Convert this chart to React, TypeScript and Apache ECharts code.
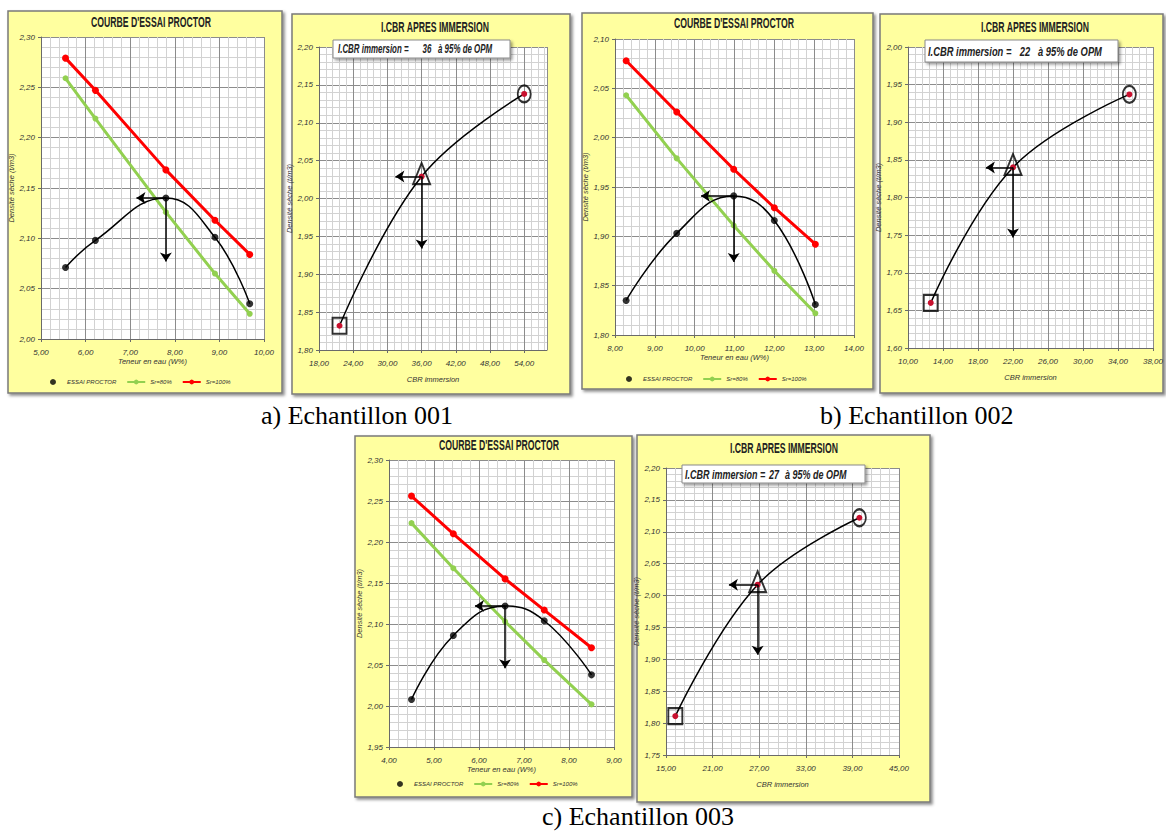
import React, { useEffect, useRef } from "react";
import * as echarts from "echarts";

// ---------- DATA ----------
// Echantillon 001
const wA = [5.55, 6.22, 7.8, 8.9, 9.68];
const proctorA = [2.071, 2.098, 2.14, 2.101, 2.035];
const sr80A = [2.259, 2.219, 2.126, 2.065, 2.025];
const sr100A = [2.279, 2.247, 2.168, 2.118, 2.084];
const arrowEndA = [7.14, 2.077];
const cbrA = [21.6, 36.0, 54.0];
const densCbrA = [1.832, 2.029, 2.138];
const cbrArrowEndA = [31.4, 1.934];

// Echantillon 002
const wB = [8.28, 9.55, 10.98, 12.0, 13.03];
const proctorB = [1.835, 1.903, 1.941, 1.916, 1.831];
const sr80B = [2.043, 1.979, 1.911, 1.865, 1.822];
const sr100B = [2.078, 2.026, 1.968, 1.929, 1.892];
const arrowEndB = [10.16, 1.874];
const cbrB = [12.6, 22.0, 35.3];
const densCbrB = [1.66, 1.84, 1.937];
const cbrArrowEndB = [18.9, 1.747];

// Echantillon 003
const wC = [4.5, 5.43, 6.58, 7.45, 8.5];
const proctorC = [2.008, 2.086, 2.122, 2.104, 2.038];
const sr80C = [2.223, 2.168, 2.103, 2.056, 2.002];
const sr100C = [2.256, 2.21, 2.155, 2.117, 2.071];
const arrowEndC = [5.91, 2.046];
const cbrC = [16.2, 26.8, 39.9];
const densCbrC = [1.811, 2.017, 2.122];
const cbrArrowEndC = [23.1, 1.907];

// I.CBR immersion at 95% OPM
const cbrAt95 = [36, 22, 27];

// axis ranges [min, max, interval]
const proctorXRanges = [[5, 10, 1], [8, 14, 1], [4, 9, 1]];
const proctorYRanges = [[2.0, 2.3, 0.05], [1.8, 2.1, 0.05], [1.95, 2.3, 0.05]];
const cbrXRanges = [[18, 58, 6], [10, 38, 4], [15, 45, 6]];
const cbrYRanges = [[1.8, 2.2, 0.05], [1.6, 2.0, 0.05], [1.75, 2.2, 0.05]];

const legendNames = ["ESSAI PROCTOR", "Sr=80%", "Sr=100%"];
const proctorTitle = "COURBE D'ESSAI PROCTOR";
const cbrTitle = "I.CBR APRES IMMERSION";
const captions = ["a) Echantillon 001", "b) Echantillon 002", "c) Echantillon 003"];
const xNameProctor = "Teneur en eau (W%)";
const yNameDensity = "Densité sèche (t/m3)";
const xNameCbr = "CBR immersion";

// ---------- LAYOUT ----------
const FONT = "Liberation Sans";
const PANEL_BG = "#FFFF9F";

const proctorLayouts = [
  { grid: 0, box: [8, 11, 274, 382], plot: [41, 37, 223, 302], title: [151, 22], legend: [50, 379] },
  { grid: 2, box: [582, 13, 291, 376], plot: [615, 39, 239, 296], title: [734, 23], legend: [626, 376] },
  { grid: 4, box: [355, 436, 277, 361], plot: [389, 460, 225, 287], title: [499, 445], legend: [397, 781] },
];
const cbrLayouts = [
  { grid: 1, box: [292, 14, 278, 380], plot: [319, 47, 228, 303], title: [435, 27],
    tb: { x: 333, y: 40, w: 177, h: 18, font: 12, sx: 0.66, label: 338, num: 427, suf: 438 } },
  { grid: 3, box: [880, 14, 283, 379], plot: [908, 47, 247, 301], title: [1035, 27],
    tb: { x: 925, y: 40, w: 193, h: 22, font: 13, sx: 0.72, label: 928, num: 1025, suf: 1038 } },
  { grid: 5, box: [637, 435, 293, 367], plot: [666, 468, 233, 287], title: [784, 448],
    tb: { x: 682, y: 465, w: 183, h: 18, font: 12, sx: 0.75, label: 685, num: 774, suf: 785 } },
];
const captionPos = [[261, 415], [820, 415], [542, 816]];

const ELLIPSE = "path://M0,10A10,10,0,1,1,20,10A10,10,0,1,1,0,10Z";

const fmt = (v: number) => v.toFixed(2).replace(".", ",");
const zip = (xs: number[], ys: number[]) => xs.map((x, i) => [x, ys[i]]);

function axis(gi: number, r: number[], name: string, nameGap: number, isY: boolean, hideMax = false) {
  return {
    gridIndex: gi,
    type: "value",
    min: r[0],
    max: r[1],
    interval: r[2],
    name,
    nameLocation: "middle",
    nameGap,
    nameTextStyle: { fontFamily: FONT, fontSize: 7.5, fontStyle: "italic", color: "#333" },
    axisLine: { show: true, onZero: false, lineStyle: { color: "#6a6a6a", width: 1 } },
    axisTick: { show: true, length: 3, lineStyle: { color: "#6a6a6a" } },
    axisLabel: {
      show: true,
      formatter: fmt,
      fontFamily: FONT,
      fontSize: 8,
      fontStyle: "italic",
      color: "#333",
      margin: isY ? 6 : 9,
      showMaxLabel: hideMax ? false : null,
    },
    splitLine: { show: true, lineStyle: { color: "#8c8c8c", width: 1 } },
    minorTick: { show: false, splitNumber: 5 },
    minorSplitLine: { show: true, lineStyle: { color: "#d2d2d2", width: 1 } },
  };
}

function arrows(x0: number, y0: number, end: number[]) {
  return {
    silent: true,
    symbol: ["none", "arrow"],
    symbolSize: 9,
    label: { show: false },
    emphasis: { disabled: true },
    lineStyle: { color: "#000", width: 1.5, type: "solid" },
    data: [
      [{ coord: [x0, y0] }, { coord: [end[0], y0] }],
      [{ coord: [x0, y0] }, { coord: [x0, end[1]] }],
    ],
  };
}

function buildOption() {
  const grid: any[] = [];
  const xAxis: any[] = [];
  const yAxis: any[] = [];
  const series: any[] = [];
  const legend: any[] = [];
  const graphic: any[] = [];

  const allBoxes = [
    proctorLayouts[0].box, cbrLayouts[0].box, proctorLayouts[1].box,
    cbrLayouts[1].box, proctorLayouts[2].box, cbrLayouts[2].box,
  ];
  allBoxes.forEach((b) => {
    graphic.push({
      type: "rect",
      z: -10,
      silent: true,
      shape: { x: b[0], y: b[1], width: b[2], height: b[3] },
      style: {
        fill: PANEL_BG,
        stroke: "#7a7a7a",
        lineWidth: 1.5,
        shadowColor: "rgba(0,0,0,0.45)",
        shadowBlur: 3,
        shadowOffsetX: 2,
        shadowOffsetY: 2,
      },
    });
  });

  const grids = [
    proctorLayouts[0].plot, cbrLayouts[0].plot, proctorLayouts[1].plot,
    cbrLayouts[1].plot, proctorLayouts[2].plot, cbrLayouts[2].plot,
  ];
  grids.forEach((p) => {
    grid.push({
      left: p[0], top: p[1], width: p[2], height: p[3],
      show: true, backgroundColor: "#ffffff", borderWidth: 0, containLabel: false,
    });
  });

  const proctorSets = [
    { w: wA, d: proctorA, s80: sr80A, s100: sr100A, end: arrowEndA },
    { w: wB, d: proctorB, s80: sr80B, s100: sr100B, end: arrowEndB },
    { w: wC, d: proctorC, s80: sr80C, s100: sr100C, end: arrowEndC },
  ];
  const cbrSets = [
    { c: cbrA, d: densCbrA, end: cbrArrowEndA },
    { c: cbrB, d: densCbrB, end: cbrArrowEndB },
    { c: cbrC, d: densCbrC, end: cbrArrowEndC },
  ];

  const axesX: any[] = new Array(6);
  const axesY: any[] = new Array(6);
  proctorLayouts.forEach((L, k) => {
    axesX[L.grid] = axis(L.grid, proctorXRanges[k], xNameProctor, 18, false);
    axesY[L.grid] = axis(L.grid, proctorYRanges[k], yNameDensity, 24, true);
  });
  cbrLayouts.forEach((L, k) => {
    axesX[L.grid] = axis(L.grid, cbrXRanges[k], xNameCbr, 25, false, k === 0);
    axesY[L.grid] = axis(L.grid, cbrYRanges[k], yNameDensity, 20, true);
  });
  xAxis.push(...axesX);
  yAxis.push(...axesY);

  proctorLayouts.forEach((L, k) => {
    const S = proctorSets[k];
    const gi = L.grid;
    const iOpt = S.d.indexOf(Math.max(...S.d));
    series.push({
      type: "line", name: "Sr=80%", xAxisIndex: gi, yAxisIndex: gi,
      data: zip(S.w, S.s80), symbol: "circle", symbolSize: 6,
      lineStyle: { color: "#92D050", width: 3 }, itemStyle: { color: "#92D050" },
      emphasis: { disabled: true }, z: 3,
    });
    series.push({
      type: "line", name: "Sr=100%", xAxisIndex: gi, yAxisIndex: gi,
      data: zip(S.w, S.s100), symbol: "circle", symbolSize: 7,
      lineStyle: { color: "#FF0000", width: 3 }, itemStyle: { color: "#FF0000" },
      emphasis: { disabled: true }, z: 3,
    });
    series.push({
      type: "line", name: "courbe", xAxisIndex: gi, yAxisIndex: gi,
      data: zip(S.w, S.d), smooth: 0.45, symbol: "none", showSymbol: false,
      lineStyle: { color: "#000", width: 1.5 }, emphasis: { disabled: true }, z: 4,
      markLine: arrows(S.w[iOpt], S.d[iOpt], S.end),
    });
    series.push({
      type: "scatter", name: "ESSAI PROCTOR", xAxisIndex: gi, yAxisIndex: gi,
      data: zip(S.w, S.d), symbol: "circle", symbolSize: 7,
      itemStyle: { color: "#000" }, emphasis: { disabled: true }, z: 5,
    });
    legend.push({
      show: true, left: L.legend[0], top: L.legend[1], orient: "horizontal",
      itemWidth: 18, itemHeight: 6, itemGap: 10, padding: 0, selectedMode: false,
      data: legendNames,
      textStyle: { fontFamily: FONT, fontSize: 6, fontStyle: "italic", color: "#333" },
    });
    graphic.push({
      type: "text", z: 10, silent: true, x: L.title[0], y: L.title[1], scaleX: 0.62,
      style: {
        text: proctorTitle, font: `bold 14px "${FONT}"`, fill: "#222",
        align: "center", verticalAlign: "middle", textAlign: "center", textVerticalAlign: "middle",
      },
    });
  });

  cbrLayouts.forEach((L, k) => {
    const S = cbrSets[k];
    const gi = L.grid;
    const frames = [
      { value: [S.c[0], S.d[0]], symbol: "rect", symbolSize: [14, 16] },
      { value: [S.c[1], S.d[1]], symbol: "triangle", symbolSize: [17, 21], symbolOffset: [0, -3] },
      { value: [S.c[2], S.d[2]], symbol: ELLIPSE, symbolSize: [13, 17] },
    ];
    series.push({
      type: "scatter", name: "repères", xAxisIndex: gi, yAxisIndex: gi, data: frames,
      itemStyle: { color: "transparent", borderColor: "#000", borderWidth: 2 },
      emphasis: { disabled: true }, z: 3,
    });
    series.push({
      type: "line", name: "I.CBR", xAxisIndex: gi, yAxisIndex: gi,
      data: zip(S.c, S.d), smooth: 0.4, symbol: "circle", symbolSize: 6, showSymbol: true,
      lineStyle: { color: "#000", width: 1.5 }, itemStyle: { color: "#C8102E" },
      emphasis: { disabled: true }, z: 4,
      markLine: arrows(S.c[1], S.d[1], S.end),
    });
    graphic.push({
      type: "text", z: 10, silent: true, x: L.title[0], y: L.title[1], scaleX: 0.62,
      style: {
        text: cbrTitle, font: `bold 14px "${FONT}"`, fill: "#222",
        align: "center", verticalAlign: "middle", textAlign: "center", textVerticalAlign: "middle",
      },
    });
    const t = L.tb;
    const cy = t.y + t.h / 2;
    const f = `italic bold ${t.font}px "${FONT}"`;
    graphic.push({
      type: "rect", z: 100, silent: true,
      shape: { x: t.x, y: t.y, width: t.w, height: t.h },
      style: {
        fill: "#fff", stroke: "#8a8a8a", lineWidth: 1,
        shadowColor: "rgba(0,0,0,0.4)", shadowBlur: 3, shadowOffsetX: 2, shadowOffsetY: 2,
      },
    });
    graphic.push({
      type: "text", z: 101, silent: true, x: t.label, y: cy, scaleX: t.sx,
      style: { text: "I.CBR immersion =", font: f, fill: "#222", align: "left", verticalAlign: "middle", textAlign: "left", textVerticalAlign: "middle" },
    });
    graphic.push({
      type: "text", z: 101, silent: true, x: t.num, y: cy, scaleX: t.sx,
      style: { text: String(cbrAt95[k]), font: f, fill: "#222", align: "center", verticalAlign: "middle", textAlign: "center", textVerticalAlign: "middle" },
    });
    graphic.push({
      type: "text", z: 101, silent: true, x: t.suf, y: cy, scaleX: t.sx,
      style: { text: "à 95% de OPM", font: f, fill: "#222", align: "left", verticalAlign: "middle", textAlign: "left", textVerticalAlign: "middle" },
    });
  });

  captions.forEach((c, i) => {
    graphic.push({
      type: "text", z: 10, silent: true, x: captionPos[i][0], y: captionPos[i][1],
      style: {
        text: c, font: `26px "Liberation Serif"`, fill: "#000",
        align: "left", verticalAlign: "middle", textAlign: "left", textVerticalAlign: "middle",
      },
    });
  });

  return {
    animation: false,
    backgroundColor: "#ffffff",
    textStyle: { fontFamily: FONT },
    grid,
    xAxis,
    yAxis,
    legend,
    series,
    graphic: { elements: graphic },
  };
}

export default function App() {
  const ref = useRef<HTMLDivElement>(null);
  useEffect(() => {
    if (!ref.current) return;
    const chart = echarts.init(ref.current, undefined, { renderer: "svg" });
    chart.setOption(buildOption() as any);
    return () => chart.dispose();
  }, []);
  return (
    <div
      ref={ref}
      style={{ position: "absolute", left: 0, top: 0, width: 1166, height: 832, background: "#fff" }}
    />
  );
}
